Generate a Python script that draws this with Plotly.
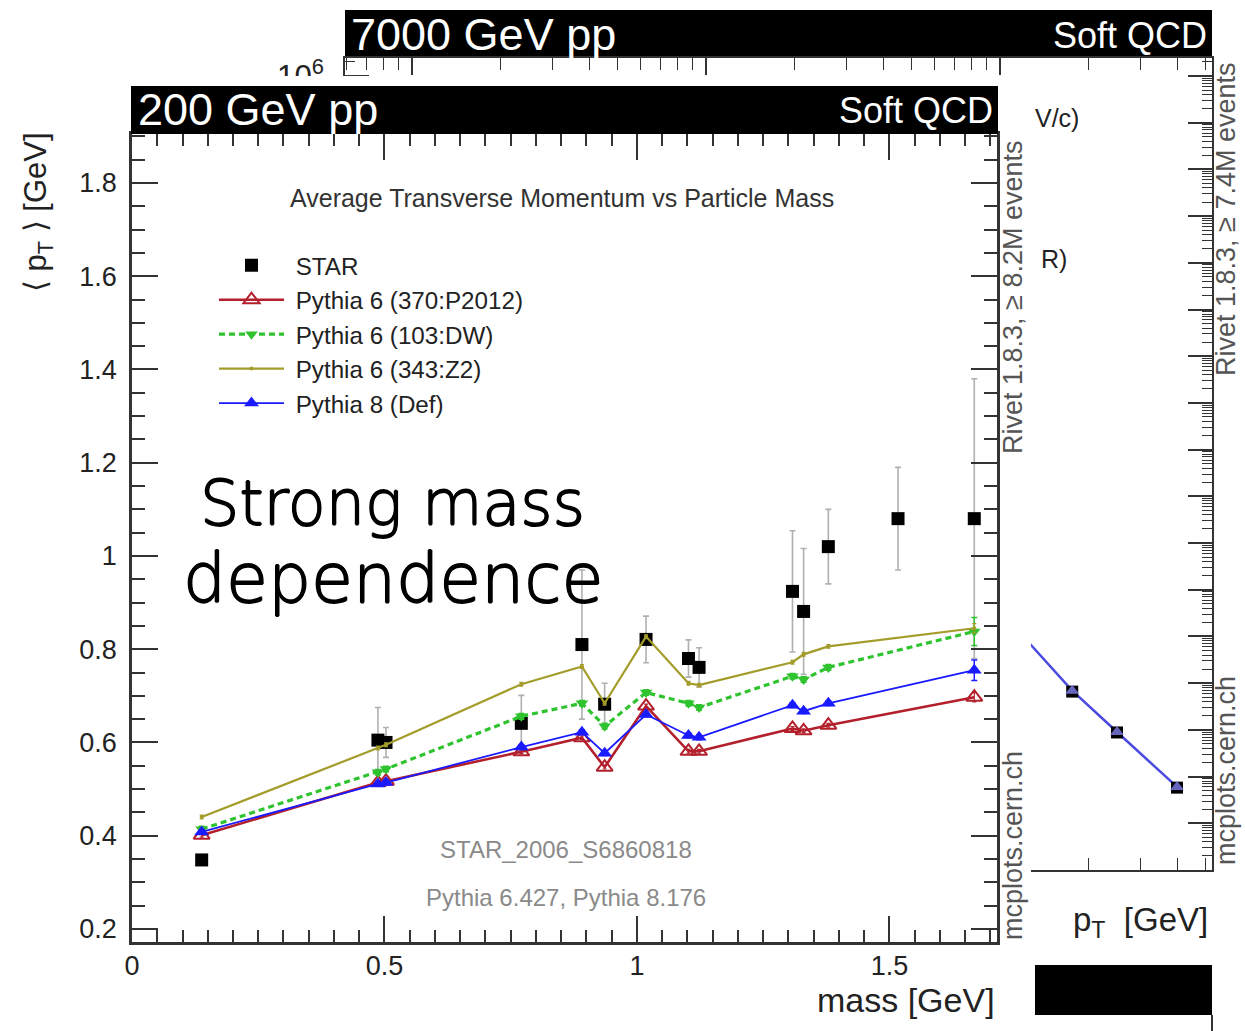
import plotly.graph_objects as go

W, H = 1245, 1031

# ---------------- 200 GeV pp : <pT> vs particle mass ----------------
star_mass = [0.138, 0.487, 0.503, 0.771, 0.891, 0.936, 1.018, 1.102, 1.123, 1.308, 1.330, 1.379, 1.517, 1.668]
star_mpt = [0.348, 0.605, 0.600, 0.641, 0.810, 0.682, 0.821, 0.780, 0.761, 0.924, 0.881, 1.020, 1.080, 1.080]
star_err = [0.010, 0.070, 0.032, 0.060, 0.160, 0.045, 0.050, 0.040, 0.042, 0.130, 0.135, 0.080, 0.110, 0.300]

mc_mass = [0.138, 0.487, 0.503, 0.771, 0.891, 0.936, 1.018, 1.102, 1.123, 1.308, 1.330, 1.379, 1.668]
p6_p2012 = [0.401, 0.514, 0.517, 0.580, 0.610, 0.547, 0.678, 0.581, 0.581, 0.630, 0.625, 0.637, 0.697]
p6_dw = [0.414, 0.536, 0.543, 0.656, 0.684, 0.635, 0.707, 0.684, 0.675, 0.742, 0.735, 0.761, 0.838]
p6_z2 = [0.440, 0.588, 0.595, 0.725, 0.763, 0.684, 0.827, 0.727, 0.723, 0.772, 0.789, 0.806, 0.845]
p8_def = [0.408, 0.511, 0.514, 0.590, 0.622, 0.577, 0.660, 0.615, 0.611, 0.680, 0.667, 0.684, 0.755]
p6_p2012_err = [0.004] * 12 + [0.010]
p6_dw_err = [0.006] * 12 + [0.030]
p6_z2_err = [0.004] * 12 + [0.010]
p8_def_err = [0.005] * 12 + [0.022]

# ---------------- 7000 GeV pp : pT spectrum (tail) ----------------
bg_data_pt = [17.6, 25.0, 40.0]
bg_data = [6.6e-8, 8.8e-9, 5.8e-10]
bg_mc_pt = [12.0, 17.6, 25.0, 40.0]
bg_mc = [1.0e-6, 6.9e-8, 9.0e-9, 6.0e-10]

FONT = "Liberation Sans, Arial, Helvetica, sans-serif"
AX = "#333333"
NB = "\u00a0"  # small gap between legend symbol and label
# light face thickened a little with a tight outline shadow
CALLOUT_SHADOW = ("0.8px 0 0 #000, -0.8px 0 0 #000, 0 0.8px 0 #000, 0 -0.8px 0 #000")


def px(x):
    return x / W


def py(y):
    return 1 - y / H


fig = go.Figure()

# background plot (7000 GeV)
fig.add_trace(go.Scatter(x=bg_mc_pt, y=bg_mc, xaxis="x", yaxis="y", mode="lines",
                         line=dict(color="#4a4ae0", width=2.5), showlegend=False))
fig.add_trace(go.Scatter(x=bg_data_pt, y=bg_data, xaxis="x", yaxis="y", mode="markers",
                         marker=dict(symbol="square", size=12, color="black"), showlegend=False))
fig.add_trace(go.Scatter(x=bg_mc_pt[1:], y=bg_mc[1:], xaxis="x", yaxis="y", mode="markers",
                         marker=dict(symbol="triangle-up", size=12, color="rgba(120,120,225,0.85)"),
                         showlegend=False))

# empty panel that sits on top of the background plot
fig.add_trace(go.Scatter(x=[], y=[], xaxis="x2", yaxis="y2", showlegend=False))

# main plot (200 GeV)
fig.add_trace(go.Scatter(
    x=star_mass, y=star_mpt, xaxis="x3", yaxis="y3", mode="markers", name=NB + "STAR",
    marker=dict(symbol="square", size=13, color="black"),
    error_y=dict(type="data", array=star_err, color="#b0b0b0", thickness=1.6, width=3)))
fig.add_trace(go.Scatter(
    x=mc_mass, y=p6_p2012, xaxis="x3", yaxis="y3", mode="lines+markers",
    name=NB + "Pythia 6 (370:P2012)",
    line=dict(color="#b3202c", width=2.6),
    marker=dict(symbol="triangle-up-open", size=14, color="#b3202c", line=dict(width=2)),
    error_y=dict(type="data", array=p6_p2012_err, color="#b3202c", thickness=1.2, width=2)))
fig.add_trace(go.Scatter(
    x=mc_mass, y=p6_dw, xaxis="x3", yaxis="y3", mode="lines+markers",
    name=NB + "Pythia 6 (103:DW)",
    line=dict(color="#2fc42f", width=3.2, dash="6px,4px"),
    marker=dict(symbol="triangle-down", size=11, color="#2fc42f"),
    error_y=dict(type="data", array=p6_dw_err, color="#2fc42f", thickness=1.5, width=3)))
fig.add_trace(go.Scatter(
    x=mc_mass, y=p6_z2, xaxis="x3", yaxis="y3", mode="lines+markers",
    name=NB + "Pythia 6 (343:Z2)",
    line=dict(color="#a39c2a", width=2.2),
    marker=dict(symbol="circle", size=4, color="#a39c2a"),
    error_y=dict(type="data", array=p6_z2_err, color="#a39c2a", thickness=1.2, width=2)))
fig.add_trace(go.Scatter(
    x=mc_mass, y=p8_def, xaxis="x3", yaxis="y3", mode="lines+markers",
    name=NB + "Pythia 8 (Def)",
    line=dict(color="#1a1aff", width=1.8),
    marker=dict(symbol="triangle-up", size=13, color="#1a1aff"),
    error_y=dict(type="data", array=p8_def_err, color="#1a1aff", thickness=1.5, width=3)))

log_minor = dict(ticks="inside", tickcolor=AX, tickwidth=1.2, dtick="D1", showgrid=False)

layout = dict(
    width=W, height=H, margin=dict(l=0, r=0, t=0, b=0, pad=0, autoexpand=False),
    paper_bgcolor="white", plot_bgcolor="white",
    font=dict(family=FONT, color="#222"),
    # background plot axes
    xaxis=dict(type="log", domain=[px(345), px(1212)], range=[-1.228, 1.721], anchor="y",
               showline=True, linecolor=AX, linewidth=2, mirror="ticks", ticks="inside",
               ticklen=17, tickwidth=1.5, tickcolor=AX, dtick=1,
               minor=dict(log_minor, ticklen=12), showticklabels=False,
               showgrid=False, zeroline=False, automargin=False),
    yaxis=dict(type="log", domain=[py(870), py(58)], range=[-11, 6.385], anchor="x",
               showline=True, linecolor=AX, linewidth=2, mirror="ticks", ticks="inside",
               ticklen=24, tickwidth=1.5, tickcolor=AX, dtick=1,
               minor=dict(log_minor, ticklen=10), exponentformat="power",
               tickfont=dict(size=25, color="#222"), ticklabelstandoff=14,
               showgrid=False, zeroline=False, automargin=False),
    # covering panel
    xaxis2=dict(domain=[0, px(1031)], range=[0, 1], anchor="y2", visible=False,
                showgrid=False, zeroline=False, automargin=False),
    yaxis2=dict(domain=[0, py(76)], range=[0, 1], anchor="x2", visible=False,
                showgrid=False, zeroline=False, automargin=False),
    # main plot axes
    xaxis3=dict(domain=[px(132), px(997)], range=[0, 1.713], anchor="y3",
                showline=True, linecolor=AX, linewidth=2.5, mirror="ticks", ticks="inside",
                ticklen=26, tickwidth=2, tickcolor=AX, tick0=0, dtick=0.5,
                minor=dict(ticks="inside", ticklen=12, tickwidth=1.5, tickcolor=AX,
                           tick0=0, dtick=0.05, showgrid=False),
                tickfont=dict(size=27, color="#222"), ticklabelstandoff=-2,
                showgrid=False, zeroline=False, automargin=False),
    yaxis3=dict(domain=[py(942), py(134)], range=[0.172, 1.905], anchor="x3",
                showline=True, linecolor=AX, linewidth=2.5, mirror="ticks", ticks="inside",
                ticklen=26, tickwidth=2, tickcolor=AX, tick0=0, dtick=0.2,
                minor=dict(ticks="inside", ticklen=13, tickwidth=1.5, tickcolor=AX,
                           tick0=0, dtick=0.05, showgrid=False),
                tickfont=dict(size=27, color="#222"), ticklabelstandoff=7,
                showgrid=False, zeroline=False, automargin=False),
    showlegend=True,
    legend=dict(x=px(214), y=py(243), xanchor="left", yanchor="top",
                bgcolor="rgba(0,0,0,0)", font=dict(size=24.2, color="#222", family=FONT),
                itemwidth=65, tracegroupgap=0),
)
fig.update_layout(**layout)

shapes = [
    # 7000 GeV header bar
    dict(type="rect", xref="paper", yref="paper", x0=px(345), x1=px(1212), y0=py(58), y1=py(10),
         fillcolor="black", line=dict(width=0), layer="below"),
    # header bar of the plot underneath
    dict(type="rect", xref="paper", yref="paper", x0=px(1035), x1=px(1212), y0=py(1015), y1=py(965),
         fillcolor="black", line=dict(width=0), layer="below"),
    dict(type="line", xref="paper", yref="paper", x0=px(1212), x1=px(1212), y0=py(1031), y1=py(1015),
         line=dict(color=AX, width=2), layer="below"),
    # 200 GeV header bar
    dict(type="rect", xref="paper", yref="paper", x0=px(131), x1=px(998), y0=py(134), y1=py(86),
         fillcolor="black", line=dict(width=0), layer="above"),
]
fig.update_layout(shapes=shapes)


def ann(text, x, y, size, color="#222", xanchor="center", yanchor="middle", angle=0, family=FONT,
        weight=None, shadow=None):
    f = dict(size=size, color=color, family=family)
    if weight is not None:
        f["weight"] = weight
    if shadow is not None:
        f["shadow"] = shadow
    return dict(text=text, x=px(x), y=py(y), xref="paper", yref="paper", showarrow=False,
                xanchor=xanchor, yanchor=yanchor, textangle=angle, font=f)


annotations = [
    # 7000 GeV plot
    ann("7000 GeV pp", 349, 34, 45, "white", xanchor="left"),
    ann("Soft QCD", 1209, 35, 36, "white", xanchor="right"),
    ann("Rivet 1.8.3, \u2265 7.4M events", 1226, 220, 27, "#555", angle=-90),
    ann("mcplots.cern.ch", 1226, 771, 27, "#555", angle=-90),
    ann("p<sub>T</sub>  [GeV]", 1210, 922, 33, "#222", xanchor="right"),
    ann("V/c)", 1033, 118, 25, "#222", xanchor="left"),
    ann("R)", 1039, 259, 25, "#222", xanchor="left"),
    # 200 GeV plot
    ann("200 GeV pp", 136, 110, 45, "white", xanchor="left"),
    ann("Soft QCD", 995, 111, 36, "white", xanchor="right"),
    ann("Average Transverse Momentum vs Particle Mass", 562, 198, 25, "#333"),
    ann("STAR_2006_S6860818", 566, 849, 24, "#8a8a8a"),
    ann("Pythia 6.427, Pythia 8.176", 566, 897, 24, "#8a8a8a"),
    ann("Rivet 1.8.3, \u2265 8.2M events", 1013, 297, 27, "#555", angle=-90),
    ann("mcplots.cern.ch", 1013, 845, 27, "#555", angle=-90),
    ann("\u27e8 p<sub>T</sub> \u27e9 [GeV]", 38, 212, 31, "#222", angle=-90),
    ann("mass [GeV]", 997, 1000, 34, "#222", xanchor="right"),
    # slide callout
    ann("Strong mass", 392, 503, 62, "black", family="DejaVu Sans", weight=300,
        shadow=CALLOUT_SHADOW),
    ann("dependence", 393, 578, 68, "black", family="DejaVu Sans", weight=300,
        shadow=CALLOUT_SHADOW),
]
fig.update_layout(annotations=annotations)

fig.write_html("out.html", config={"displayModeBar": False})
